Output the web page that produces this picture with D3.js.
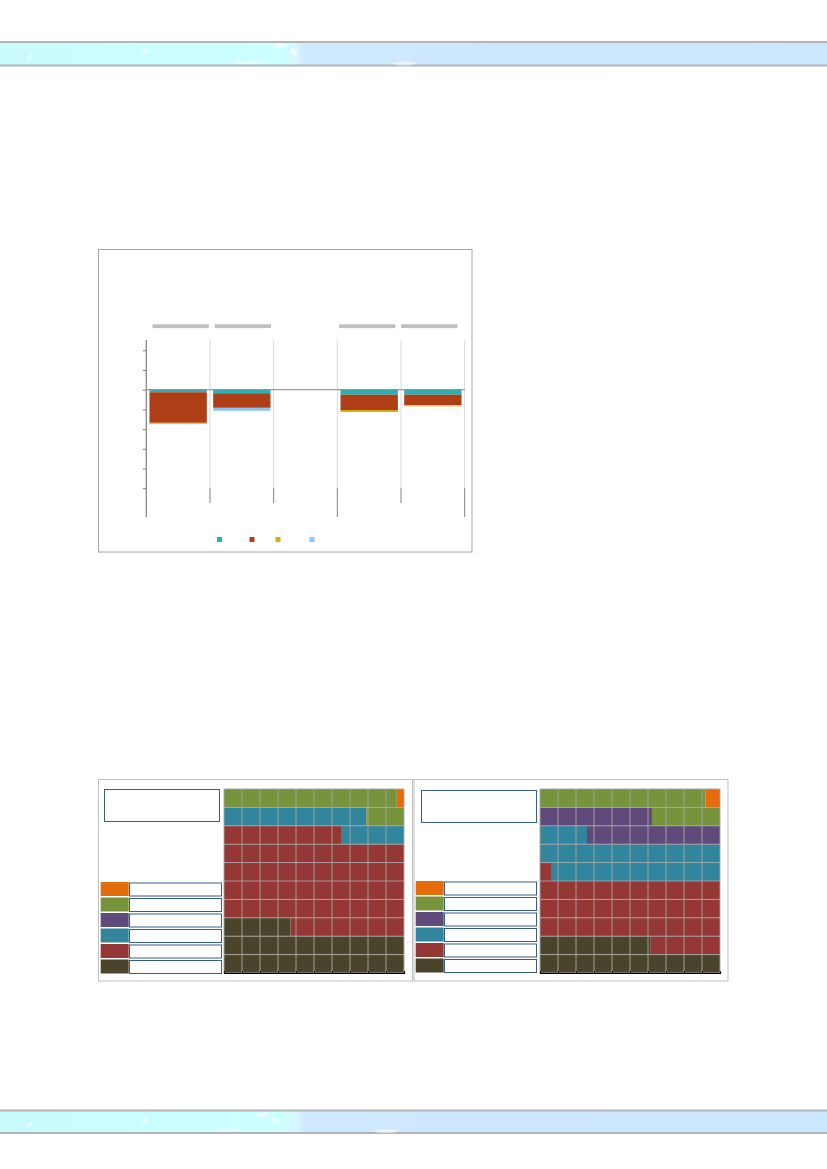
<!DOCTYPE html>
<html><head><meta charset="utf-8">
<script src="https://cdn.jsdelivr.net/npm/d3@7"></script>
<style>body{margin:0;background:#fff}svg{display:block}</style>
</head><body>
<svg id="page" width="827" height="1169"></svg>
<script>
// ---------- DATA ----------
const barCategories = ["c1", "c2", "c3", "c4", "c5"];
const barGroups = [{name: "g1", from: 0, to: 2}, {name: "g2", from: 3, to: 4}];
const barSeries = ["s1", "s2", "s3", "s4"];
const barTeal = [-0.13, -0.18, 0, -0.25, -0.25];
const barRed = [-1.55, -0.74, 0, -0.78, -0.54];
const barGold = [-0.02, 0, 0, -0.10, -0.07];
const barLightBlue = [-0.05, -0.15, 0, 0, 0];
const yTicks = [2, 1, 0, -1, -2, -3, -4, -5];
const headerSlots = [0, 1, 3, 4];

const waffleSeries = ["orange", "green", "purple", "teal", "red", "dark"];
const waffleLeft = [0.4, 11.7, 0, 11.4, 52.8, 23.7];
const waffleRight = [0.81, 12.97, 13.61, 22.0, 34.46, 16.15];

const barColors = ["#23b3b8", "#ae3e15", "#d6ae0c", "#8ec5f8"];
const waffleColors = ["#e46c0a", "#77933c", "#604a7b", "#31859c", "#953735", "#4a452a"];

const svg = d3.select("#page");

// ---------- header / footer bands ----------
const defs = svg.append("defs");
const g1 = defs.append("linearGradient").attr("id", "band").attr("x1", 0).attr("x2", 1);
[[0, "#c9fbfd"], [0.34, "#ccffff"], [0.36, "#d6f4ff"], [0.37, "#cde8ff"], [1, "#cbe7ff"]]
  .forEach(([o, c]) => g1.append("stop").attr("offset", o).attr("stop-color", c));
function band(y0, y1, cloudX) {
  svg.append("rect").attr("x", 0).attr("y", y0).attr("width", 827).attr("height", y1 - y0).attr("fill", "url(#band)");
  svg.append("line").attr("x1", 0).attr("x2", 827).attr("y1", y0).attr("y2", y0).attr("stroke", "#b4b4b4").attr("stroke-width", 2);
  svg.append("line").attr("x1", 0).attr("x2", 827).attr("y1", y1).attr("y2", y1).attr("stroke", "#b4b4b4").attr("stroke-width", 2);
  const cl = svg.append("g").attr("fill", "#ffffff").attr("opacity", 0.55);
  cl.append("ellipse").attr("cx", cloudX - 12).attr("cy", y0 + 4).attr("rx", 8).attr("ry", 2);
  cl.append("ellipse").attr("cx", cloudX + 2).attr("cy", y0 + 10).attr("rx", 5).attr("ry", 3).attr("transform", `rotate(35 ${cloudX + 2} ${y0 + 10})`);
  cl.append("ellipse").attr("cx", cloudX - 45).attr("cy", y1 - 3).attr("rx", 14).attr("ry", 1.5);
  cl.append("ellipse").attr("cx", 145).attr("cy", (y0 + y1) / 2 - 2).attr("rx", 4).attr("ry", 2).attr("transform", `rotate(-40 145 ${(y0 + y1) / 2 - 2})`);
  cl.append("ellipse").attr("cx", 30).attr("cy", (y0 + y1) / 2 + 3).attr("rx", 4).attr("ry", 1.5).attr("transform", `rotate(-45 30 ${(y0 + y1) / 2 + 3})`);
  cl.append("ellipse").attr("cx", cloudX + 112).attr("cy", y1 - 2).attr("rx", 12).attr("ry", 2);
}
band(42, 65.5, 292);
band(1110.5, 1133, 274);

// ---------- bar chart ----------
svg.append("rect").attr("x", 98.5).attr("y", 249.5).attr("width", 373.5).attr("height", 302.5)
  .attr("fill", "#fff").attr("stroke", "#a6a6a6").attr("stroke-width", 1);

const x = d3.scaleBand().domain(barCategories).range([146.3, 464.7]).paddingInner(0.1).paddingOuter(0.05);
const y = d3.scaleLinear().domain([-5, 2]).range([488.2, 350.3]);
const step = x.step();
const slotEdge = i => 146.3 + step * i;

// light vertical separators
const sepG = svg.append("g");
for (let i = 1; i <= barCategories.length; i++) {
  sepG.append("line").attr("x1", slotEdge(i)).attr("x2", slotEdge(i)).attr("y1", 340).attr("y2", y(-5))
    .attr("stroke", "#d9d9d9").attr("stroke-width", 1);
}
// multi-level category ticks
for (let i = 1; i <= barCategories.length; i++) {
  const isGroupEdge = barGroups.some(g => g.to + 1 === i);
  sepG.append("line").attr("x1", slotEdge(i)).attr("x2", slotEdge(i)).attr("y1", y(-5))
    .attr("y2", isGroupEdge ? 517 : 503).attr("stroke", "#808080").attr("stroke-width", 1);
}

// stacked bars
const rows = barCategories.map((c, i) => ({cat: c, vals: [barTeal[i], barRed[i], barGold[i], barLightBlue[i]]}));
const barG = svg.append("g");
rows.forEach(r => {
  let acc = 0;
  r.vals.forEach((v, k) => {
    if (v === 0) return;
    const a = acc, b = acc + v;
    acc = b;
    barG.append("rect").attr("x", x(r.cat)).attr("width", x.bandwidth())
      .attr("y", y(a)).attr("height", Math.max(0.8, y(b) - y(a)))
      .attr("fill", barColors[k]).attr("opacity", (k === 2 && r.cat === "c5") ? 0.45 : 1);
  });
});

// header placeholders
headerSlots.forEach(i => {
  const c = barCategories[i];
  svg.append("rect").attr("x", x(c) + 3 - 1.5 * i).attr("width", x.bandwidth() - 1).attr("y", 324.3).attr("height", 3.8).attr("fill", "#bfbfbf");
});

// zero line
svg.append("line").attr("x1", 146.3).attr("x2", 464.7).attr("y1", y(0)).attr("y2", y(0)).attr("stroke", "#868686").attr("stroke-width", 1);

// y axis
const yAxis = d3.axisLeft(y).tickValues(yTicks).tickSize(3.5).tickFormat("");
const ya = svg.append("g").attr("transform", "translate(146.3,0)").call(yAxis);
ya.select(".domain").remove();
ya.selectAll(".tick line").attr("stroke", "#808080");
svg.append("line").attr("x1", 146.3).attr("x2", 146.3).attr("y1", 340).attr("y2", 517).attr("stroke", "#808080").attr("stroke-width", 1.2);

// legend
const legX = [217, 249.5, 275.5, 309.5];
barSeries.forEach((s, k) => {
  svg.append("rect").attr("x", legX[k]).attr("y", 537).attr("width", 5).attr("height", 5).attr("fill", barColors[k]);
});

// ---------- waffles ----------
function waffle(panel, vals) {
  const g = svg.append("g");
  g.append("rect").attr("x", panel.px).attr("y", 779.5).attr("width", 314).attr("height", 201.5)
    .attr("fill", "#fff").attr("stroke", "#bfbfbf").attr("stroke-width", 1);
  // title box
  g.append("rect").attr("x", panel.tx).attr("y", panel.ty).attr("width", 115).attr("height", 32)
    .attr("fill", "#fff").attr("stroke", "#385d8a").attr("stroke-width", 1);
  // legend
  waffleSeries.forEach((s, k) => {
    const yy = panel.ly + k * 15.5;
    g.append("rect").attr("x", panel.sx).attr("y", yy).attr("width", 28).attr("height", 14).attr("fill", waffleColors[k]);
    g.append("rect").attr("x", panel.bx).attr("y", yy + 1).attr("width", 92).attr("height", 13)
      .attr("fill", "#fff").attr("stroke", "#385d8a").attr("stroke-width", 1);
  });
  // grid
  const gx = d3.scaleLinear().domain([0, 10]).range([panel.gx, panel.gx + 180]);
  const gy = d3.scaleLinear().domain([0, 10]).range([973, 789]);
  // fill order: bottom-up = dark, red, teal, purple, green, orange
  const order = d3.range(waffleSeries.length).reverse();
  let cum = 0;
  order.forEach(k => {
    const a = cum, b = cum + vals[k];
    cum = b;
    if (b - a <= 0) return;
    for (let row = Math.floor(a / 10); row < 10 && row * 10 < b; row++) {
      const s = Math.max(a, row * 10) - row * 10;
      const e = Math.min(b, row * 10 + 10) - row * 10;
      if (e <= s) continue;
      g.append("rect").attr("x", gx(s)).attr("width", gx(e) - gx(s))
        .attr("y", gy(row + 1)).attr("height", gy(row) - gy(row + 1)).attr("fill", waffleColors[k]);
    }
  });
  for (let i = 0; i <= 10; i++) {
    g.append("line").attr("x1", gx(i)).attr("x2", gx(i)).attr("y1", 789).attr("y2", 973).attr("stroke", "#a6a6a6").attr("stroke-width", 0.9);
    g.append("line").attr("x1", gx(0)).attr("x2", gx(10)).attr("y1", gy(i)).attr("y2", gy(i)).attr("stroke", "#a6a6a6").attr("stroke-width", 0.9);
  }
  const ax = d3.axisBottom(gx).ticks(10).tickSize(-1.5).tickFormat("");
  const axg = g.append("g").attr("transform", "translate(0,973)").call(ax);
  axg.select(".domain").attr("stroke", "#000").attr("stroke-width", 1.2);
  axg.selectAll(".tick line").attr("stroke", "#000");
}
waffle({px: 98.5, tx: 104.5, ty: 789.5, sx: 100.7, bx: 129.5, ly: 882, gx: 224}, waffleLeft);
waffle({px: 414, tx: 421.5, ty: 790.5, sx: 415.7, bx: 444.5, ly: 881, gx: 540}, waffleRight);
</script>
</body></html>
